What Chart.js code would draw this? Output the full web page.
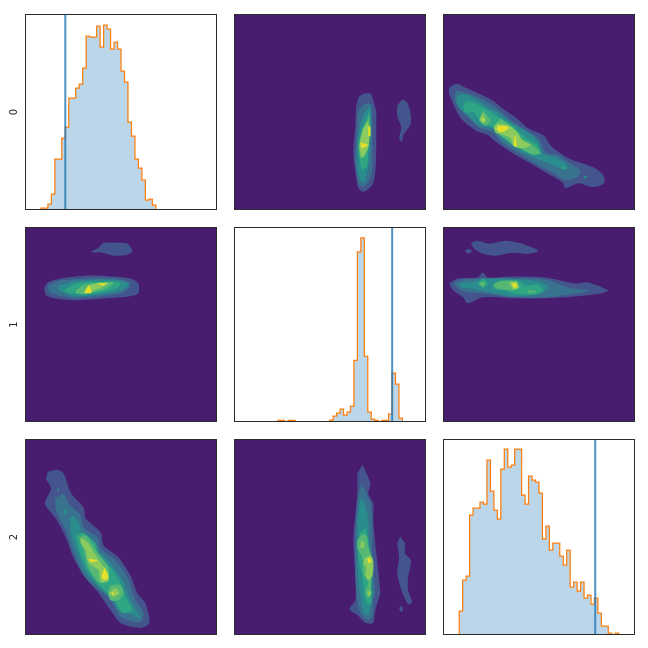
<!DOCTYPE html>
<html>
<head>
<meta charset="utf-8">
<style>
  body { margin: 0; background: #fff; }
  canvas { position: absolute; }
</style>
<script src="https://cdn.jsdelivr.net/npm/chart.js@4/dist/chart.umd.min.js"></script>
</head>
<body>
<script>
// parameter names, shown on the left of each row
const paramLabels = ['0', '1', '2'];

// true value of each parameter (blue line), in the same x units as the histograms
const truthValues = [39.5, 158, 152];

// histograms: first bin edge, bin width, bin heights
const hist0Start = 15;
const hist0Width = 3.5;
const hist0Counts = [2, 2, 6, 16, 51, 51, 72, 83, 112, 112, 122, 126, 142, 174, 173, 173, 184, 163, 185, 181, 161, 168, 161, 139, 128, 88, 74, 51, 42, 30, 10, 11, 5];

const hist1Start = 43;
const hist1Width = 3.48;
const hist1Counts = [1.7, 1.7, 0, 1.7, 1.7, 0, 0, 0, 0, 0, 0, 0, 0, 0, 0, 2, 6, 9, 13, 7, 10, 16, 62, 171, 185, 66, 10, 3, 1.7, 0, 1.7, 1.7, 8, 49, 38, 4];

const hist2Start = 15.3;
const hist2Width = 3.485;
const hist2Counts = [24, 55, 59, 120, 127, 127, 133, 131, 175, 144, 125, 116, 166, 186, 168, 170, 186, 186, 140, 131, 159, 155, 153, 142, 96, 109, 85, 92, 92, 79, 70, 85, 48, 53, 44, 53, 37, 40, 31, 37, 22, 9, 9, 2, 0, 2];

// contour bands: one list per level, each holding closed outlines as [x, y]
const contour01 = [
  [[[129,79],[136,79],[139,86],[142,98],[142,118],[142,138],[141,158],[138,171],[129,178],[124,174],[121,158],[119,138],[121,111],[122,91],[124,83]],
   [[168,85],[173,88],[176,96],[177,108],[174,114],[169,121],[168,128],[165,124],[167,113],[163,101],[163,91]]],
  [[[134,88],[137,91],[138,108],[138,134],[138,154],[134,168],[128,173],[124,168],[121,148],[122,128],[123,111],[124,98],[128,91]]],
  [[[136,91],[137,104],[136,134],[134,151],[131,166],[128,168],[124,161],[123,144],[123,128],[126,111],[130,98]]],
  [[[135,96],[136,114],[134,134],[133,151],[128,156],[125,144],[124,128],[128,114],[132,104]]],
  [[[135,101],[135,121],[134,133],[130,143],[126,144],[125,129],[128,116],[133,106]]],
  [[[134,106],[135,124],[134,133],[128,143],[125,134],[126,126],[129,114]]],
  [[[134,112],[136,112],[136,122],[134,122]],
   [[126,128],[134,131],[127,134]]]
];

const contour02 = [
  [[[5,73],[12,69],[22,73],[35,79],[49,86],[59,94],[72,103],[85,114],[100,121],[109,133],[125,144],[139,149],[152,154],[160,161],[161,169],[149,173],[135,169],[122,174],[119,168],[102,158],[85,148],[69,139],[50,126],[45,121],[32,116],[17,104],[9,89],[5,79]]],
  [[[12,76],[22,78],[39,85],[52,93],[65,104],[82,116],[95,124],[102,138],[115,141],[125,148],[137,156],[134,163],[122,166],[109,158],[95,151],[75,139],[59,129],[49,118],[35,113],[24,103],[15,94],[10,84]]],
  [[[19,79],[29,83],[44,93],[54,98],[69,109],[85,118],[95,128],[99,139],[114,144],[124,151],[122,156],[105,149],[92,144],[79,138],[60,126],[49,114],[35,111],[24,101],[15,93],[12,83]],
   [[140,162],[144,161],[143,164],[141,164]]],
  [[[22,86],[32,89],[45,96],[55,103],[69,111],[82,123],[94,131],[97,139],[90,141],[79,136],[60,124],[49,113],[39,110],[30,98],[22,98],[19,93]],
   [[118,153],[123,153],[121,155],[118,154]]],
  [[[39,96],[47,106],[42,111],[35,106]],
   [[57,104],[69,113],[77,124],[87,129],[97,139],[89,140],[77,134],[67,129],[60,123],[52,118],[50,111]]],
  [[[54,109],[65,111],[74,118],[79,126],[87,131],[79,134],[70,132],[67,124],[59,120],[52,118],[50,113]],
   [[39,99],[42,106],[39,109],[36,105]]],
  [[[54,111],[64,112],[65,114],[57,118],[53,115]],
   [[71,122],[72,122],[73,132],[70,131]],
   [[38,105],[41,105],[40,107]]]
];

const contour10 = [
  [[[18,61],[22,55],[35,51],[62,48],[88,49],[105,51],[113,56],[113,66],[105,69],[82,71],[48,73],[28,71],[20,68]],
   [[65,24],[73,20],[78,15],[88,15],[102,16],[107,23],[102,27],[88,28],[77,25],[68,25]]],
  [[[22,58],[35,53],[62,51],[88,51],[105,55],[103,61],[95,66],[75,69],[48,71],[32,68],[23,65]]],
  [[[33,58],[48,54],[72,52],[92,53],[103,56],[100,61],[88,65],[68,68],[48,69],[37,65],[32,63]]],
  [[[38,63],[50,56],[72,54],[95,55],[92,60],[77,65],[58,67],[42,66]]],
  [[[50,63],[57,58],[72,55],[88,55],[83,60],[72,64],[58,67],[50,66]]],
  [[[59,63],[63,58],[73,56],[82,56],[78,59],[68,63],[65,66],[58,66]]],
  [[[59,65],[63,58],[66,65],[60,66]],
   [[71,56],[82,56],[77,58]]]
];

const contour12 = [
  [[[27,15],[34,13],[45,16],[62,13],[75,15],[84,18],[95,23],[85,26],[69,25],[52,28],[39,26],[30,21]],
   [[21,23],[25,21],[28,24],[24,26]],
   [[5,56],[14,51],[34,50],[39,45],[44,50],[69,49],[102,50],[132,56],[145,55],[165,63],[159,66],[135,69],[102,71],[69,71],[39,70],[24,76],[19,70],[9,63]]],
  [[[10,56],[19,52],[35,51],[69,51],[102,52],[125,60],[147,63],[135,66],[102,70],[69,70],[39,66],[22,65],[14,61]]],
  [[[15,56],[34,53],[45,51],[79,52],[99,55],[105,61],[95,67],[69,69],[45,65],[25,61],[17,60]]],
  [[[34,56],[39,51],[44,56],[39,61]],
   [[49,57],[55,53],[74,53],[82,58],[94,57],[100,63],[94,67],[74,67],[59,63],[50,62]]],
  [[[35,56],[39,54],[42,56],[39,60]],
   [[50,57],[57,54],[72,54],[76,60],[70,63],[59,62],[52,61]],
   [[84,63],[90,63],[93,65],[84,66]]],
  [[[65,55],[73,54],[75,60],[70,62],[67,58]]],
  [[[68,56],[73,56],[73,60],[70,60]]]
];

const contour20 = [
  [[[22,32],[32,30],[38,34],[45,53],[58,68],[60,79],[75,93],[78,106],[93,118],[105,136],[112,154],[120,164],[124,184],[115,189],[95,184],[85,171],[73,154],[60,139],[48,119],[40,98],[30,79],[19,64],[25,49],[20,39]]],
  [[[29,59],[38,54],[43,64],[55,76],[58,88],[72,98],[75,109],[90,121],[102,138],[110,161],[118,173],[115,183],[95,178],[85,161],[70,148],[58,136],[47,111],[40,91],[30,71]],
   [[31,48],[33,47],[33,52],[31,52]]],
  [[[44,79],[48,76],[55,88],[55,93],[68,101],[73,111],[85,124],[97,141],[105,161],[115,179],[105,175],[95,173],[87,161],[72,146],[60,133],[50,109],[45,94]],
   [[39,69],[41,70],[41,74],[38,73]]],
  [[[50,96],[57,93],[70,104],[73,116],[85,128],[95,144],[102,161],[107,171],[98,174],[93,169],[87,158],[73,146],[62,131],[55,116]]],
  [[[53,98],[60,96],[72,113],[83,128],[82,143],[73,143],[63,129],[58,111]],
   [[85,146],[95,146],[98,154],[93,161],[85,161],[82,153]]],
  [[[55,98],[63,104],[67,111],[77,126],[83,134],[83,141],[75,143],[73,131],[63,124],[60,111],[55,104]],
   [[83,154],[90,149],[94,154],[88,158]]],
  [[[63,119],[72,121],[65,123]],
   [[79,128],[82,136],[82,140],[77,140],[76,136]],
   [[86,153],[89,154],[87,156]]]
];

const contour21 = [
  [[[128,25],[132,33],[136,44],[134,54],[139,64],[139,81],[141,104],[146,153],[144,161],[141,171],[139,184],[131,184],[123,176],[115,170],[121,161],[121,138],[119,98],[123,54],[123,34]],
   [[166,97],[171,104],[171,114],[177,121],[174,138],[174,151],[178,163],[174,165],[168,153],[163,134],[165,118],[163,104]],
   [[167,166],[169,170],[167,173],[165,169]]],
  [[[127,44],[131,51],[136,63],[138,81],[138,114],[141,153],[139,161],[138,178],[133,181],[126,174],[123,161],[121,138],[121,98],[123,61]]],
  [[[126,59],[130,63],[134,81],[135,114],[138,148],[139,154],[136,168],[134,176],[129,173],[127,161],[124,141],[123,114],[123,81]]],
  [[[126,93],[131,89],[134,101],[137,118],[138,134],[137,154],[137,164],[133,164],[130,154],[128,138],[124,118],[123,101]]],
  [[[127,95],[132,96],[134,108],[138,119],[139,131],[137,141],[136,153],[134,159],[131,153],[134,143],[129,134],[128,118],[123,109],[123,101]]],
  [[[127,101],[130,104],[129,109],[126,108]],
   [[130,119],[136,116],[139,121],[138,136],[134,141],[131,136],[132,129],[129,124]],
   [[133,154],[136,151],[137,154],[135,158]]],
  [[[133,119],[136,119],[137,123],[134,124]]]
];

// band colours from lowest (panel background) to highest
const levelColors = ['#481c6e', '#44548c', '#38728f', '#2a8c8c', '#2ea583', '#57b873', '#8ccb5e', '#e6e02a'];

const colLefts = [25, 234, 443];
const rowTops = [14, 227, 439];
const panelWidth = 192;
const rowHeights = [196, 195, 196];
const xRange = 191;
const yRange = 195;
// empty bins sit on the frame, so the histogram axis starts just above them
const histFloor = 1;

// border round each panel, drawn on top of the marks
const framePlugin = {
  id: 'frame',
  afterDraw(chart) {
    const { left, top, width, height } = chart.chartArea;
    const ctx = chart.ctx;
    ctx.save();
    ctx.strokeStyle = '#2b2b2b';
    ctx.lineWidth = 1;
    ctx.strokeRect(left - 0.5, top - 0.5, width + 1, height + 1);
    ctx.restore();
  }
};

function histDatasets(start, binWidth, counts, truth) {
  const steps = [{ x: start, y: 0 }];
  counts.forEach((c, i) => steps.push({ x: start + i * binWidth, y: c }));
  steps.push({ x: start + counts.length * binWidth, y: 0 });
  return [
    {
      data: [{ x: truth, y: 0 }, { x: truth, y: yRange }],
      borderColor: 'rgba(31,119,180,0.8)',
      borderWidth: 2,
      pointRadius: 0,
      showLine: true,
      order: 0
    },
    {
      data: steps,
      stepped: 'before',
      fill: 'origin',
      clip: 0,
      backgroundColor: 'rgba(31,119,180,0.3)',
      borderColor: '#ff7f0e',
      borderWidth: 1.25,
      pointRadius: 0,
      showLine: true,
      order: 1
    }
  ];
}

function contourDatasets(levels) {
  const background = [[0, 0], [xRange, 0], [xRange, yRange], [0, yRange]];
  const bands = [[background]].concat(levels);
  const sets = [];
  bands.forEach((polys, level) => {
    polys.forEach(poly => {
      sets.push({
        data: poly.map(p => ({ x: p[0], y: p[1] })),
        fill: 'shape',
        tension: level === 0 ? 0 : 0.25,
        backgroundColor: levelColors[level],
        borderColor: levelColors[level],
        borderWidth: 0,
        pointRadius: 0,
        showLine: true,
        order: bands.length - level
      });
    });
  });
  return sets;
}

function makePanel(row, col, datasets, isContour) {
  const firstCol = col === 0;
  const canvas = document.createElement('canvas');
  const cssWidth = firstCol ? colLefts[0] + panelWidth : panelWidth;
  canvas.width = cssWidth;
  canvas.height = rowHeights[row];
  canvas.style.left = (firstCol ? 0 : colLefts[col]) + 'px';
  canvas.style.top = rowTops[row] + 'px';
  canvas.style.width = cssWidth + 'px';
  canvas.style.height = rowHeights[row] + 'px';
  document.body.appendChild(canvas);

  const yScale = {
    type: 'linear',
    display: firstCol,
    reverse: isContour,
    min: isContour ? 0 : histFloor,
    max: yRange,
    ticks: { display: false },
    grid: { display: false },
    border: { display: false },
    title: {
      display: firstCol,
      text: paramLabels[row],
      color: '#262626',
      font: { family: 'DejaVu Sans', size: 10 },
      padding: { top: 8, bottom: 0 }
    }
  };
  if (firstCol) yScale.afterFit = scale => { scale.width = colLefts[0] + 1; };

  return new Chart(canvas, {
    type: 'scatter',
    data: { datasets },
    plugins: [framePlugin],
    options: {
      responsive: false,
      animation: false,
      devicePixelRatio: 1,
      layout: { padding: { left: firstCol ? 0 : 1, top: 1, right: 1, bottom: 1 } },
      plugins: { legend: { display: false }, tooltip: { enabled: false } },
      scales: {
        x: { type: 'linear', display: false, min: 0, max: xRange },
        y: yScale
      }
    }
  });
}

makePanel(0, 0, histDatasets(hist0Start, hist0Width, hist0Counts, truthValues[0]), false);
makePanel(0, 1, contourDatasets(contour01), true);
makePanel(0, 2, contourDatasets(contour02), true);
makePanel(1, 0, contourDatasets(contour10), true);
makePanel(1, 1, histDatasets(hist1Start, hist1Width, hist1Counts, truthValues[1]), false);
makePanel(1, 2, contourDatasets(contour12), true);
makePanel(2, 0, contourDatasets(contour20), true);
makePanel(2, 1, contourDatasets(contour21), true);
makePanel(2, 2, histDatasets(hist2Start, hist2Width, hist2Counts, truthValues[2]), false);
</script>
</body>
</html>
